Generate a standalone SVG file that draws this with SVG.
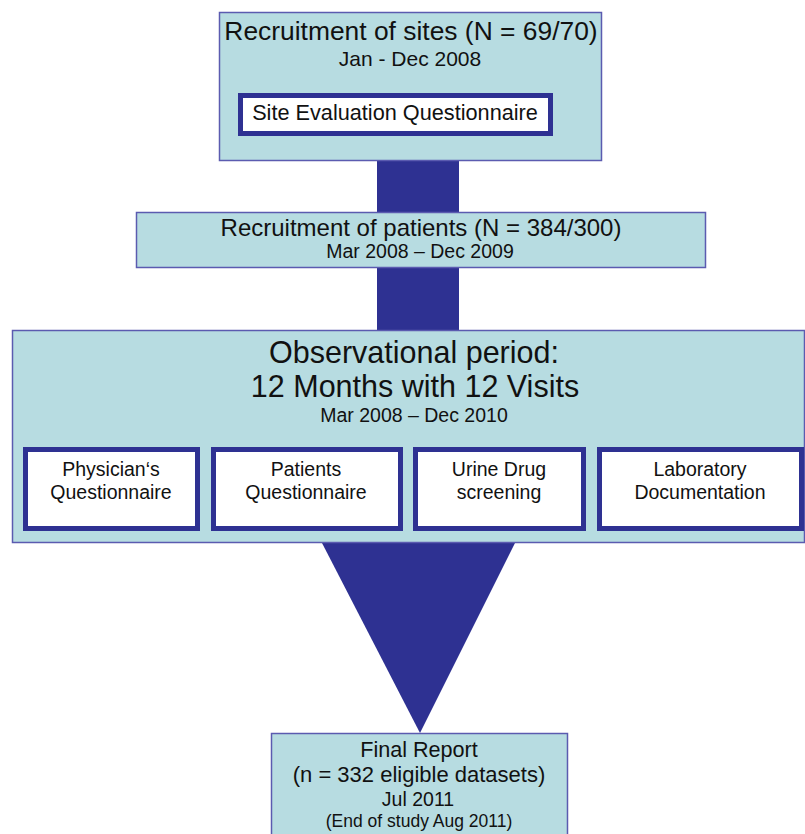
<svg xmlns="http://www.w3.org/2000/svg" width="805" height="834" viewBox="0 0 805 834">
<style>
.box{fill:#b7dce1;stroke:#5b5bb0;stroke-width:1.5}
.inner{fill:#ffffff;stroke:#2e3192;stroke-width:5}
.conn{fill:#2e3192}
text{font-family:"Liberation Sans",Arial,sans-serif;fill:#111;text-anchor:middle}
.q{font-size:19.5px}
</style>
<rect width="805" height="834" fill="#ffffff"/>
<g id="connectors">
<rect class="conn" x="377" y="160" width="82" height="53"/>
<rect class="conn" x="377" y="267" width="82" height="64"/>
<polygon class="conn" points="322,543 515,543 420,733"/>
</g>
<g id="sites">
<rect class="box" x="219.5" y="12.5" width="382" height="148"/>
<text x="411" y="40" font-size="26.4">Recruitment of sites (N = 69/70)</text>
<text x="410" y="66" font-size="21">Jan - Dec 2008</text>
</g>
<g id="siteEval">
<rect class="inner" x="240.5" y="95.5" width="310" height="38"/>
<text x="395" y="120" font-size="21.7">Site Evaluation Questionnaire</text>
</g>
<g id="patients">
<rect class="box" x="136.5" y="212.5" width="569" height="55"/>
<text x="421" y="236" font-size="24">Recruitment of patients (N = 384/300)</text>
<text x="420" y="258" font-size="19.5">Mar 2008 – Dec 2009</text>
</g>
<g id="observational">
<rect class="box" x="12.5" y="330.5" width="792" height="212"/>
<text x="414" y="363" font-size="30.5">Observational period:</text>
<text x="415" y="397" font-size="30.5">12 Months with 12 Visits</text>
<text x="414" y="422" font-size="19.5">Mar 2008 – Dec 2010</text>
</g>
<g id="physician">
<rect class="inner" x="25.5" y="449.5" width="172" height="79"/>
<text class="q" x="111" y="476">Physician‘s</text>
<text class="q" x="111" y="499">Questionnaire</text>
</g>
<g id="patientsQ">
<rect class="inner" x="213.5" y="449.5" width="187" height="79"/>
<text class="q" x="306" y="476">Patients</text>
<text class="q" x="306" y="499">Questionnaire</text>
</g>
<g id="urine">
<rect class="inner" x="415.5" y="449.5" width="168" height="79"/>
<text class="q" x="499" y="476">Urine Drug</text>
<text class="q" x="499" y="499">screening</text>
</g>
<g id="lab">
<rect class="inner" x="599.5" y="449.5" width="202" height="79"/>
<text class="q" x="700" y="476">Laboratory</text>
<text class="q" x="700" y="499">Documentation</text>
</g>
<g id="final">
<rect class="box" x="271.5" y="733.5" width="296" height="110"/>
<text x="419" y="757" font-size="21.6">Final Report</text>
<text x="419" y="782" font-size="22">(n = 332 eligible datasets)</text>
<text x="418" y="806" font-size="19.5">Jul 2011</text>
<text x="419" y="827" font-size="17.5">(End of study Aug 2011)</text>
</g>
</svg>
